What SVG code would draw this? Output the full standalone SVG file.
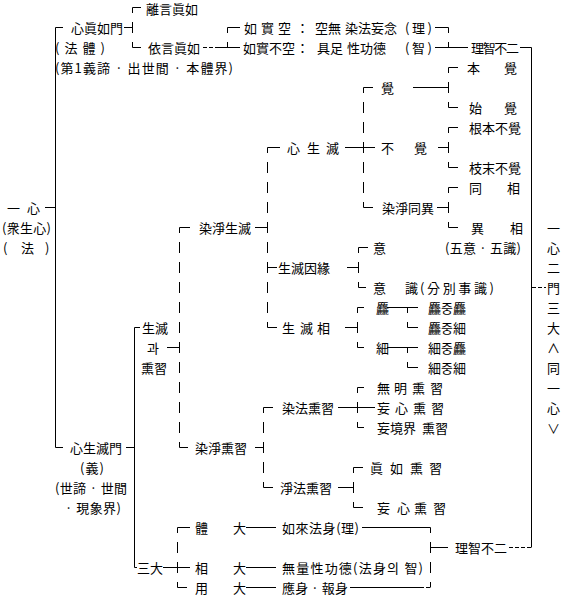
<svg xmlns="http://www.w3.org/2000/svg" width="565" height="596" viewBox="0 0 565 596">
<style>
.t{font-family:"Noto Sans CJK KR","Noto Sans CJK SC",sans-serif;font-size:13px;fill:#000}
.l{stroke:#000;stroke-width:1;fill:none}
.d{stroke-dasharray:11 9;stroke-dashoffset:5.5}
.s{stroke-dasharray:4 2}
</style>
<rect width="565" height="596" fill="#fff"/>
<g id="connectors">
<path class="l" d="M132.5 7.5H141M55.5 27.5H63M124 27.5H132.5M227.5 27.5H240M435 27.5H448.5M132.5 47.5H141M216 47.5H240M435 47.5H468M520 47.5H531.5M448.5 67.5H458M363.5 87.5H373M413 87.5H448.5M448.5 107.5H458M448.5 127.5H458M267.5 147.5H280M345 147.5H375M438 147.5H448.5M448.5 167.5H458M448.5 187.5H458M45 207.5H55.5M363.5 207.5H373M437 207.5H448.5M179.5 227.5H190M255 227.5H267.5M448.5 227.5H458M358.5 247.5H368M267.5 267.5H277M347 267.5H358.5M358.5 287.5H366M357.5 307.5H364M387 307.5H418M134.5 327.5H140M267.5 327.5H277M345 327.5H357.5M407.5 327.5H418M167 347.5H179.5M357.5 347.5H364M387 347.5H418M407.5 367.5H418M357.5 387.5H364M263.5 407.5H273M338 407.5H375M357.5 427.5H364M55.5 447.5H63M126 447.5H134.5M179.5 447.5H188M255 447.5H263.5M353.5 467.5H363M263.5 487.5H273M338 487.5H353.5M353.5 507.5H363M177.5 527.5H190M246 527.5H276M362 527.5H430.5M430.5 547.5H448M134.5 567.5H137M163 567.5H190M246 567.5H276M177.5 587.5H187M246 587.5H276M350 587.5H420"/>
<path class="l s" d="M203 47.5H216M532 287.5H546M509 547.5H531.5M420 587.5H430.5"/>
<path class="l" d="M55.5 27.5V447.5M134.5 327.5V567.5M531.5 47.5V547.5"/>
<path class="l d" d="M132.5 7.5V47.5M227.5 27.5V47.5M448.5 27.5V47.5M448.5 67.5V107.5M448.5 127.5V167.5M448.5 187.5V227.5M363.5 87.5V207.5M267.5 147.5V327.5M179.5 227.5V447.5M358.5 247.5V287.5M357.5 307.5V347.5M357.5 387.5V427.5M407.5 307.5V327.5M407.5 347.5V367.5M263.5 407.5V487.5M353.5 467.5V507.5M177.5 527.5V587.5M430.5 527.5V587.5"/>
</g>
<g id="nodes" transform="translate(0,0.5)">
<g id="root"><text class="t" x="7" y="212">一</text><text class="t" x="27" y="212">心</text><text class="t" x="2" y="232" textLength="49">(衆生心)</text><text class="t" x="3" y="252">(</text><text class="t" x="21" y="252">法</text><text class="t" x="45" y="252">)</text></g>
<g id="n-zhenru"><text class="t" x="71" y="32">心眞如門</text><text class="t" x="55" y="52" textLength="50">(法體)</text><text class="t" x="55" y="72" textLength="178">(第1義諦 · 出世間 · 本體界)</text></g>
<g id="n-liyan"><text class="t" x="146" y="13">離言眞如</text></g>
<g id="n-yiyan"><text class="t" x="148" y="52">依言眞如</text></g>
<g id="n-rushikong"><text class="t" x="244" y="32">如</text><text class="t" x="261" y="32">實</text><text class="t" x="278" y="32">空</text><text class="t" x="296" y="32">：</text><text class="t" x="315" y="32">空無</text><text class="t" x="345" y="32">染法妄念</text><text class="t" x="405" y="32" textLength="27">(理)</text></g>
<g id="n-rushibukong"><text class="t" x="243" y="52">如實不空</text><text class="t" x="296" y="52">：</text><text class="t" x="317" y="52">具足</text><text class="t" x="347" y="52">性功德</text><text class="t" x="405" y="52" textLength="27">(智)</text></g>
<g id="n-lizhi1"><text class="t" x="471" y="52" textLength="48">理智不二</text></g>
<g id="n-benjue"><text class="t" x="467" y="72">本</text><text class="t" x="504" y="72">覺</text></g>
<g id="n-jue"><text class="t" x="381" y="92">覺</text></g>
<g id="n-shijue"><text class="t" x="469" y="112">始</text><text class="t" x="504" y="112">覺</text></g>
<g id="n-genben"><text class="t" x="469" y="132">根本不覺</text></g>
<g id="n-xinshengmie"><text class="t" x="287" y="152">心</text><text class="t" x="307" y="152">生</text><text class="t" x="326" y="152">滅</text></g>
<g id="n-bujue"><text class="t" x="381" y="152">不</text><text class="t" x="414" y="152">覺</text></g>
<g id="n-zhimo"><text class="t" x="469" y="172">枝末不覺</text></g>
<g id="n-tongxiang"><text class="t" x="469" y="192">同</text><text class="t" x="507" y="192">相</text></g>
<g id="n-ranjingtongyi"><text class="t" x="382" y="212">染淨同異</text></g>
<g id="n-yixiang"><text class="t" x="471" y="232">異</text><text class="t" x="510" y="232">相</text></g>
<g id="n-ranjingshengmie"><text class="t" x="199" y="232">染淨生滅</text></g>
<g id="n-yi"><text class="t" x="373" y="252">意</text><text class="t" x="445" y="252" textLength="76">(五意 · 五識)</text></g>
<g id="n-yinyuan"><text class="t" x="278" y="272">生滅因緣</text></g>
<g id="n-yishi"><text class="t" x="373" y="292">意</text><text class="t" x="405" y="292">識</text><text class="t" x="420" y="292" textLength="74">(分別事識)</text></g>
<g id="n-cu"><text class="t" x="376" y="312">麤</text></g>
<g id="n-cucu"><text class="t" x="428" y="312">麤중麤</text></g>
<g id="n-shengmiexiang"><text class="t" x="282" y="332">生</text><text class="t" x="300" y="332">滅</text><text class="t" x="317" y="332">相</text></g>
<g id="n-cuxi"><text class="t" x="428" y="332">麤중細</text></g>
<g id="n-shengmieguo"><text class="t" x="142" y="332">生滅</text><text class="t" x="147" y="352">과</text><text class="t" x="141" y="372">熏習</text></g>
<g id="n-xi"><text class="t" x="376" y="352">細</text></g>
<g id="n-xicu"><text class="t" x="428" y="352">細중麤</text></g>
<g id="n-xixi"><text class="t" x="428" y="372">細중細</text></g>
<g id="n-wuming"><text class="t" x="377" y="392">無</text><text class="t" x="394" y="392">明</text><text class="t" x="412" y="392">熏</text><text class="t" x="430" y="392">習</text></g>
<g id="n-ranfa"><text class="t" x="282" y="412">染法熏習</text></g>
<g id="n-wangxin1"><text class="t" x="377" y="412">妄</text><text class="t" x="395" y="412">心</text><text class="t" x="413" y="412">熏</text><text class="t" x="431" y="412">習</text></g>
<g id="n-wangjing"><text class="t" x="377" y="432">妄境界</text><text class="t" x="422" y="432">熏習</text></g>
<g id="n-shengmiemen"><text class="t" x="70" y="452">心生滅門</text><text class="t" x="80" y="472" textLength="24">(義)</text><text class="t" x="55" y="492" textLength="72">(世諦 · 世間</text><text class="t" x="65" y="512" textLength="56">· 現象界)</text></g>
<g id="n-ranjingxunxi"><text class="t" x="195" y="452">染淨熏習</text></g>
<g id="n-zhenruxunxi"><text class="t" x="370" y="472">眞</text><text class="t" x="390" y="472">如</text><text class="t" x="410" y="472">熏</text><text class="t" x="429" y="472">習</text></g>
<g id="n-jingfa"><text class="t" x="280" y="492">淨法熏習</text></g>
<g id="n-wangxin2"><text class="t" x="377" y="512">妄</text><text class="t" x="397" y="512">心</text><text class="t" x="414" y="512">熏</text><text class="t" x="433" y="512">習</text></g>
<g id="n-tida"><text class="t" x="195" y="532">體</text><text class="t" x="233" y="532">大</text><text class="t" x="282" y="532" textLength="77">如來法身(理)</text></g>
<g id="n-lizhi2"><text class="t" x="455" y="552">理智不二</text></g>
<g id="n-sanda"><text class="t" x="137" y="572">三大</text></g>
<g id="n-xiangda"><text class="t" x="195" y="572">相</text><text class="t" x="233" y="572">大</text><text class="t" x="282" y="572" textLength="141">無量性功德(法身의 智)</text></g>
<g id="n-yongda"><text class="t" x="195" y="592">用</text><text class="t" x="233" y="592">大</text><text class="t" x="282" y="592" textLength="66">應身 · 報身</text></g>
<g id="n-side"><text class="t" x="547" y="232">一</text><text class="t" x="547" y="252">心</text><text class="t" x="547" y="272">二</text><text class="t" x="547" y="292">門</text><text class="t" x="547" y="312">三</text><text class="t" x="547" y="332">大</text><text class="t" x="547" y="352">∧</text><text class="t" x="547" y="372">同</text><text class="t" x="547" y="392">一</text><text class="t" x="547" y="412">心</text><text class="t" x="547" y="432">∨</text></g>
</g>
</svg>
